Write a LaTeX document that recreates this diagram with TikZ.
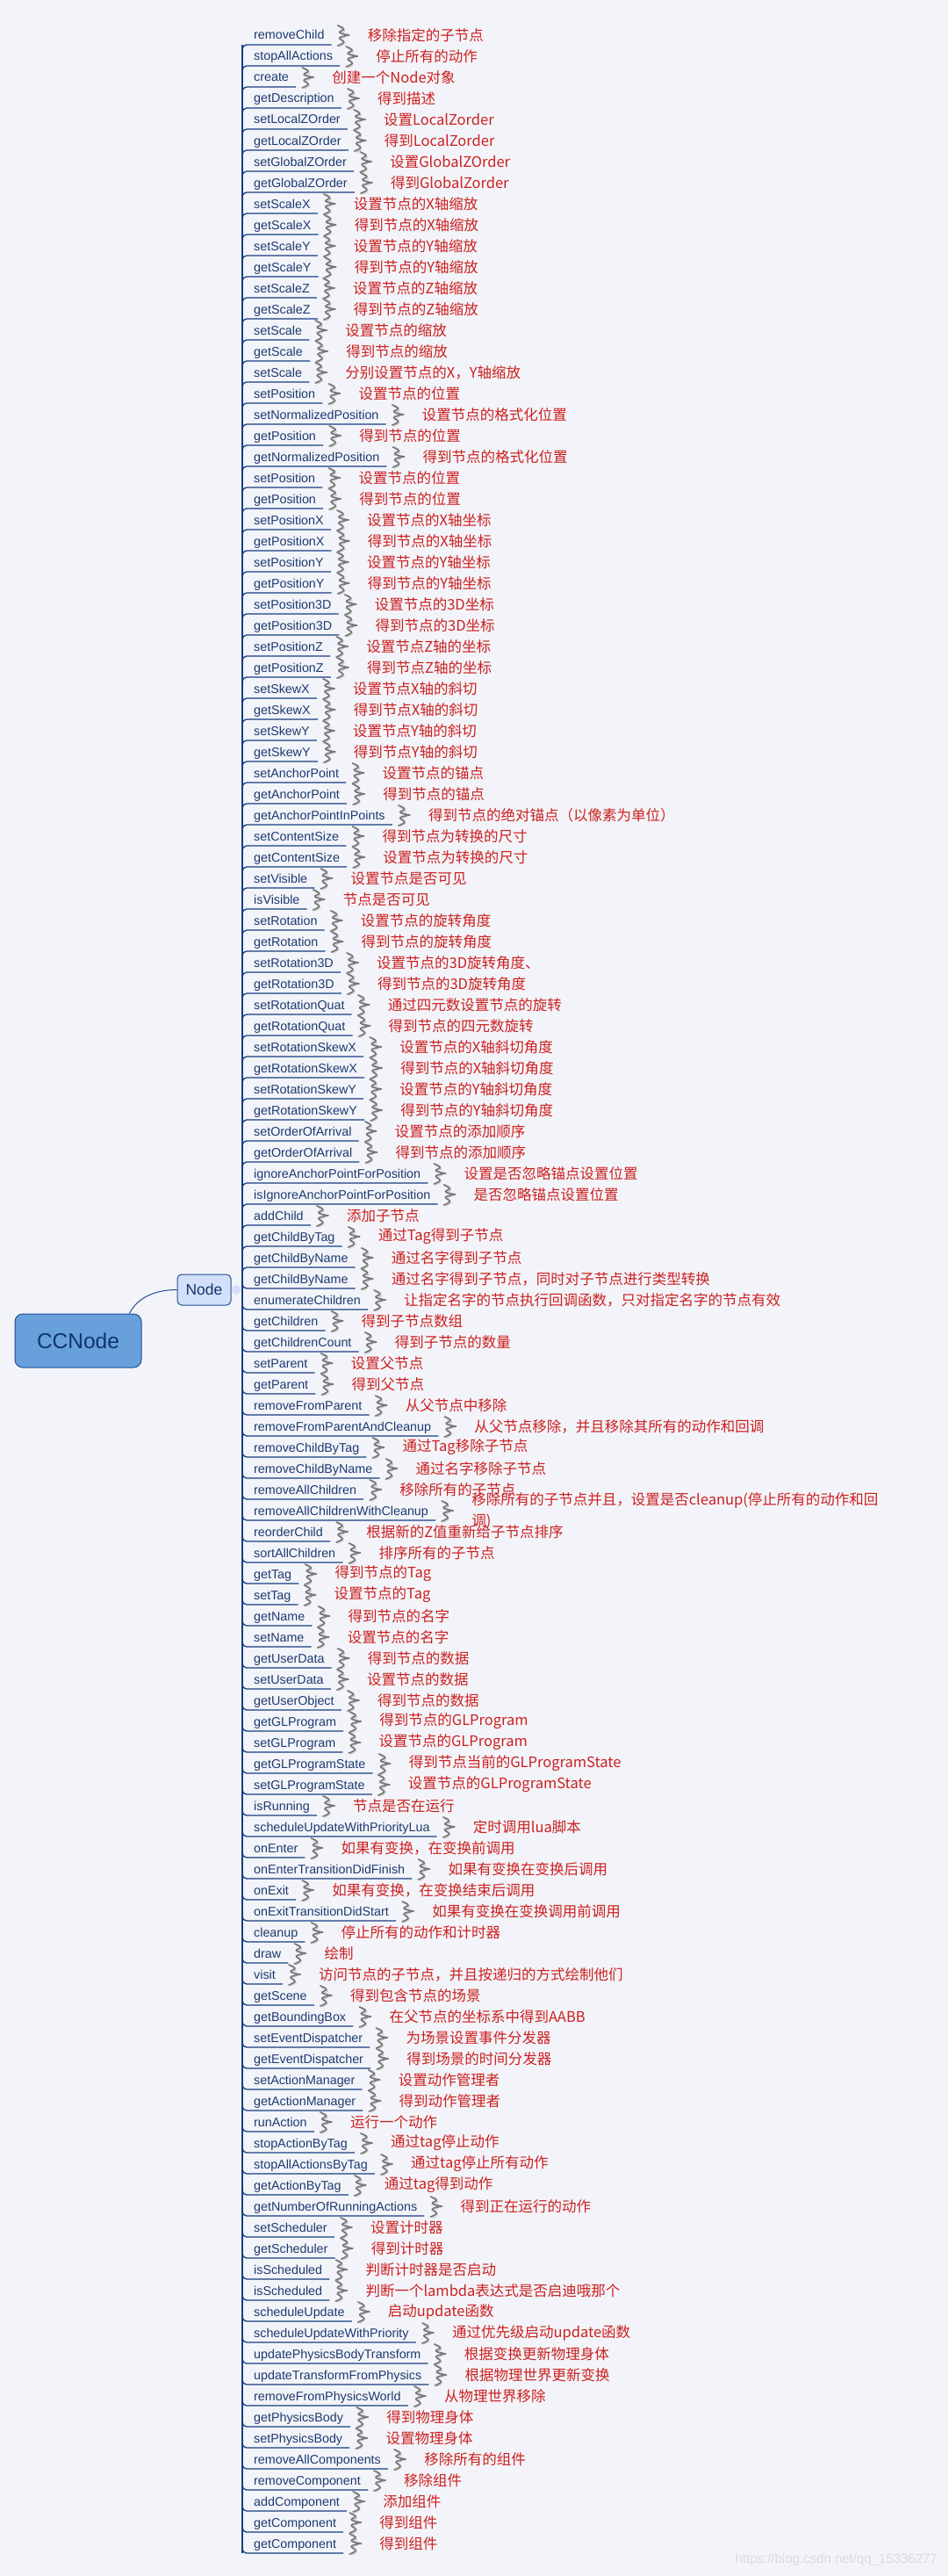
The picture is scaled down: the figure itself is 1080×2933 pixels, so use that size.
\documentclass[tikz,border=0pt]{standalone}
\usepackage{fontspec}
\setmainfont{Liberation Sans}
\newfontfamily\cjk{Noto Sans CJK SC}
\usetikzlibrary{positioning, calc}

\definecolor{bgcol}{RGB}{243,244,249}
\definecolor{methcol}{RGB}{28,58,112}
\definecolor{linecol}{RGB}{22,62,128}
\definecolor{desccol}{RGB}{204,32,32}
\definecolor{squigcol}{RGB}{120,120,120}
\definecolor{rootfill}{RGB}{104,160,219}
\definecolor{mainfill}{RGB}{211,224,250}
\definecolor{boxline}{RGB}{32,78,148}
\definecolor{boxtext}{RGB}{16,54,108}

\tikzset{
  meth/.style={inner sep=0pt, text=methcol, font=\fontsize{14.3}{16}\selectfont},
  desc/.style={inner sep=0pt, text=desccol, font=\cjk\fontsize{16.5}{24}\selectfont, align=left},
  branch/.style={draw=linecol, line width=1.3pt, rounded corners=5pt},
  squig/.style={draw=squigcol, line width=1.7pt, line cap=round, line join=round},
  squigshade/.style={draw=squigcol!35, line width=1.4pt, line cap=round},
  rootbox/.style={draw=boxline, fill=rootfill, line width=1pt, rounded corners=9pt,
    minimum width=144pt, minimum height=61pt, text=boxtext, font=\fontsize{24.5}{28}\selectfont},
  mainbox/.style={draw=boxline, fill=mainfill, line width=1pt, rounded corners=5pt,
    minimum width=61pt, minimum height=35pt, text=boxtext, font=\fontsize{17.5}{20}\selectfont},
  link/.style={draw=boxline, line width=1pt},
  wmtext/.style={text=black!14, font=\fontsize{15}{17}\selectfont, inner sep=0pt}
}

\begin{document}
\begin{tikzpicture}[x=1pt, y=-1pt]
\useasboundingbox (0,0) rectangle (1080,2933);
\fill[bgcol] (0,0) rectangle (1080,2933);

% root and first level
\node[rootbox] (cc) at (89,1526.5) {CCNode};
\node[mainbox] (nd) at (232.5,1468.5) {Node};
\draw[link] ([xshift=-14pt]cc.north east) .. controls (156,1478) and (176,1468.5) .. (nd.west);
\node[circle, draw=mainfill!70!boxline!40, fill=mainfill, line width=0.8pt, minimum size=10pt, inner sep=0pt] (fold) at (269,1468.5) {};
\draw[draw=mainfill!70!boxline!50, line width=0.8pt] ([xshift=-2.5pt]fold.center) -- ([xshift=2.5pt]fold.center);

% members of Node
\foreach \m/\d [count=\i from 0] in {
  removeChild/移除指定的子节点,
  stopAllActions/停止所有的动作,
  create/创建一个Node对象,
  getDescription/得到描述,
  setLocalZOrder/设置LocalZorder,
  getLocalZOrder/得到LocalZorder,
  setGlobalZOrder/设置GlobalZOrder,
  getGlobalZOrder/得到GlobalZorder,
  setScaleX/设置节点的X轴缩放,
  getScaleX/得到节点的X轴缩放,
  setScaleY/设置节点的Y轴缩放,
  getScaleY/得到节点的Y轴缩放,
  setScaleZ/设置节点的Z轴缩放,
  getScaleZ/得到节点的Z轴缩放,
  setScale/设置节点的缩放,
  getScale/得到节点的缩放,
  setScale/分别设置节点的X，Y轴缩放,
  setPosition/设置节点的位置,
  setNormalizedPosition/设置节点的格式化位置,
  getPosition/得到节点的位置,
  getNormalizedPosition/得到节点的格式化位置,
  setPosition/设置节点的位置,
  getPosition/得到节点的位置,
  setPositionX/设置节点的X轴坐标,
  getPositionX/得到节点的X轴坐标,
  setPositionY/设置节点的Y轴坐标,
  getPositionY/得到节点的Y轴坐标,
  setPosition3D/设置节点的3D坐标,
  getPosition3D/得到节点的3D坐标,
  setPositionZ/设置节点Z轴的坐标,
  getPositionZ/得到节点Z轴的坐标,
  setSkewX/设置节点X轴的斜切,
  getSkewX/得到节点X轴的斜切,
  setSkewY/设置节点Y轴的斜切,
  getSkewY/得到节点Y轴的斜切,
  setAnchorPoint/设置节点的锚点,
  getAnchorPoint/得到节点的锚点,
  getAnchorPointInPoints/得到节点的绝对锚点（以像素为单位）,
  setContentSize/得到节点为转换的尺寸,
  getContentSize/设置节点为转换的尺寸,
  setVisible/设置节点是否可见,
  isVisible/节点是否可见,
  setRotation/设置节点的旋转角度,
  getRotation/得到节点的旋转角度,
  setRotation3D/设置节点的3D旋转角度、,
  getRotation3D/得到节点的3D旋转角度,
  setRotationQuat/通过四元数设置节点的旋转,
  getRotationQuat/得到节点的四元数旋转,
  setRotationSkewX/设置节点的X轴斜切角度,
  getRotationSkewX/得到节点的X轴斜切角度,
  setRotationSkewY/设置节点的Y轴斜切角度,
  getRotationSkewY/得到节点的Y轴斜切角度,
  setOrderOfArrival/设置节点的添加顺序,
  getOrderOfArrival/得到节点的添加顺序,
  ignoreAnchorPointForPosition/设置是否忽略锚点设置位置,
  isIgnoreAnchorPointForPosition/是否忽略锚点设置位置,
  addChild/添加子节点,
  getChildByTag/通过Tag得到子节点,
  getChildByName/通过名字得到子节点,
  getChildByName/通过名字得到子节点，同时对子节点进行类型转换,
  enumerateChildren/让指定名字的节点执行回调函数，只对指定名字的节点有效,
  getChildren/得到子节点数组,
  getChildrenCount/得到子节点的数量,
  setParent/设置父节点,
  getParent/得到父节点,
  removeFromParent/从父节点中移除,
  removeFromParentAndCleanup/从父节点移除，并且移除其所有的动作和回调,
  removeChildByTag/通过Tag移除子节点,
  removeChildByName/通过名字移除子节点,
  removeAllChildren/移除所有的子节点,
  removeAllChildrenWithCleanup/{移除所有的子节点并且，设置是否cleanup(停止所有的动作和回\\调)},
  reorderChild/根据新的Z值重新给子节点排序,
  sortAllChildren/排序所有的子节点,
  getTag/得到节点的Tag,
  setTag/设置节点的Tag,
  getName/得到节点的名字,
  setName/设置节点的名字,
  getUserData/得到节点的数据,
  setUserData/设置节点的数据,
  getUserObject/得到节点的数据,
  getGLProgram/得到节点的GLProgram,
  setGLProgram/设置节点的GLProgram,
  getGLProgramState/得到节点当前的GLProgramState,
  setGLProgramState/设置节点的GLProgramState,
  isRunning/节点是否在运行,
  scheduleUpdateWithPriorityLua/定时调用lua脚本,
  onEnter/如果有变换，在变换前调用,
  onEnterTransitionDidFinish/如果有变换在变换后调用,
  onExit/如果有变换，在变换结束后调用,
  onExitTransitionDidStart/如果有变换在变换调用前调用,
  cleanup/停止所有的动作和计时器,
  draw/绘制,
  visit/访问节点的子节点，并且按递归的方式绘制他们,
  getScene/得到包含节点的场景,
  getBoundingBox/在父节点的坐标系中得到AABB,
  setEventDispatcher/为场景设置事件分发器,
  getEventDispatcher/得到场景的时间分发器,
  setActionManager/设置动作管理者,
  getActionManager/得到动作管理者,
  runAction/运行一个动作,
  stopActionByTag/通过tag停止动作,
  stopAllActionsByTag/通过tag停止所有动作,
  getActionByTag/通过tag得到动作,
  getNumberOfRunningActions/得到正在运行的动作,
  setScheduler/设置计时器,
  getScheduler/得到计时器,
  isScheduled/判断计时器是否启动,
  isScheduled/判断一个lambda表达式是否启迪哦那个,
  scheduleUpdate/启动update函数,
  scheduleUpdateWithPriority/通过优先级启动update函数,
  updatePhysicsBodyTransform/根据变换更新物理身体,
  updateTransformFromPhysics/根据物理世界更新变换,
  removeFromPhysicsWorld/从物理世界移除,
  getPhysicsBody/得到物理身体,
  setPhysicsBody/设置物理身体,
  removeAllComponents/移除所有的组件,
  removeComponent/移除组件,
  addComponent/添加组件,
  getComponent/得到组件,
  getComponent/得到组件}{
  \pgfmathsetmacro\yy{51+24*\i}
  \pgfmathsetmacro\dy{\yy<1460 ? 10 : (\yy>1475 ? -10 : 0)}
  \coordinate (r\i) at (276,\yy);
  \node[meth, anchor=base west] (m\i) at (289,\yy-6) {\m};
  \coordinate (e\i) at ($(m\i.east |- r\i)+(8,0)$);
  \draw[branch] ($(r\i)+(0,\dy)$) |- (e\i);
  % wavy callout mark
  \draw[squigshade, shift={(e\i)}] plot[smooth, tension=0.7] coordinates {(9,-20) (15,-16) (11,-13) (16,-10) (11,-6) (15,-2) (9,2)};
  \draw[squig, shift={(e\i)}] plot[smooth, tension=0.7] coordinates {(7,-22) (14,-18) (9,-14) (20,-11)};
  \draw[squig, shift={(e\i)}] plot[smooth, tension=0.7] coordinates {(20,-11) (9,-8) (14,-3) (7,1)};
  \node[desc, anchor=west] (d\i) at ($(e\i)+(41,-11)$) {\d};
}
\draw[branch] (r0) -- (r119);

\node[wmtext, anchor=east] (wm) at (1068,2915) {https://blog.csdn.net/qq\_15336277};
\end{tikzpicture}
\end{document}
